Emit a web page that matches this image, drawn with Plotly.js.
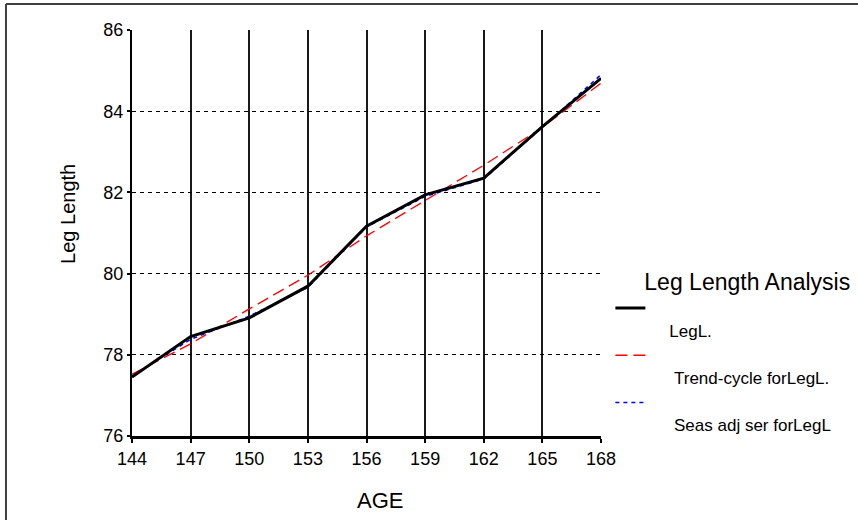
<!DOCTYPE html>
<html>
<head>
<meta charset="utf-8">
<script src="https://cdn.plot.ly/plotly-3.0.1.min.js"></script>
<style>html,body{margin:0;padding:0;background:#fff;}#chart{width:858px;height:520px;}</style>
</head>
<body>
<div id="chart"></div>
<script>
// Data
const age = [144, 147, 150, 153, 156, 159, 162, 165, 168];
const legL = [77.45, 78.45, 78.91, 79.69, 81.17, 81.94, 82.35, 83.62, 84.81];
const trendCycle = [77.52, 78.27, 79.13, 79.96, 80.93, 81.81, 82.67, 83.60, 84.69];
const seasAdj = [77.48, 78.38, 78.95, 79.66, 81.15, 81.90, 82.33, 83.60, 84.90];
const xTicks = [144, 147, 150, 153, 156, 159, 162, 165, 168];
const yTicks = [76, 78, 80, 82, 84, 86];

const FONT = 'Liberation Sans, Arial, sans-serif';

const traces = [
  {x: age, y: trendCycle, type: 'scatter', mode: 'lines', name: '&nbsp;<br>&nbsp;&nbsp;&nbsp;&nbsp;&nbsp;Trend-cycle forLegL.',
   legendrank: 2, line: {color: '#ff0000', width: 1.3, dash: '12px,6px'}},
  {x: age, y: seasAdj, type: 'scatter', mode: 'lines', name: '&nbsp;<br>&nbsp;&nbsp;&nbsp;&nbsp;&nbsp;Seas adj ser forLegL',
   legendrank: 3, line: {color: '#0000ff', width: 1.5, dash: '4px,4px'}},
  {x: age, y: legL, type: 'scatter', mode: 'lines', name: '&nbsp;<br>&nbsp;&nbsp;&nbsp;&nbsp;LegL.',
   legendrank: 1, line: {color: '#000000', width: 3}}
];

const layout = {
  width: 858, height: 520,
  margin: {l: 132, r: 257, t: 30, b: 84, autoexpand: false},
  paper_bgcolor: '#ffffff', plot_bgcolor: '#ffffff',
  font: {family: FONT, color: '#000'},
  showlegend: true,
  legend: {
    x: 1.02, xanchor: 'left', y: 0.432, yanchor: 'top',
    valign: 'top', bgcolor: 'rgba(0,0,0,0)',
    font: {family: FONT, size: 17, color: '#000'},
    title: {text: '&nbsp;&nbsp;&nbsp;&nbsp;&nbsp;Leg Length Analysis', font: {family: FONT, size: 23, color: '#000'}},
    tracegroupgap: 0
  },
  xaxis: {
    range: [144, 168], tickvals: xTicks, ticktext: xTicks.map(String),
    showgrid: true, gridcolor: '#1a1a1a', gridwidth: 2,
    showline: true, linecolor: '#000', linewidth: 3,
    ticks: 'outside', ticklen: 4, tickwidth: 2, tickcolor: '#000',
    tickfont: {family: FONT, size: 18},
    zeroline: false, automargin: false
  },
  yaxis: {
    range: [76, 86], tickvals: yTicks, ticktext: yTicks.map(String),
    showgrid: true, gridcolor: '#000', gridwidth: 1, griddash: '4px,4px',
    showline: true, linecolor: '#000', linewidth: 2,
    ticks: 'outside', ticklen: 3, tickwidth: 2, tickcolor: '#000',
    tickfont: {family: FONT, size: 18},
    zeroline: false, automargin: false
  },
  annotations: [
    {text: 'AGE', xref: 'paper', yref: 'paper', x: 0.529, y: -0.158, xanchor: 'center', yanchor: 'middle',
     showarrow: false, font: {family: FONT, size: 22, color: '#000'}},
    {text: 'Leg Length', xref: 'paper', yref: 'paper', x: -0.1365, y: 0.547, xanchor: 'center', yanchor: 'middle',
     textangle: -90, showarrow: false, font: {family: FONT, size: 20, color: '#000'}}
  ],
  shapes: [
    {type: 'line', xref: 'paper', yref: 'paper', x0: -0.2687, x1: 1.6, y0: 1.064, y1: 1.064,
     line: {color: '#404040', width: 2}},
    {type: 'line', xref: 'paper', yref: 'paper', x0: -0.2687, x1: -0.2687, y0: 1.064, y1: -0.25,
     line: {color: '#404040', width: 2}}
  ]
};

Plotly.newPlot('chart', traces, layout, {displayModeBar: false, staticPlot: true});
</script>
</body>
</html>
